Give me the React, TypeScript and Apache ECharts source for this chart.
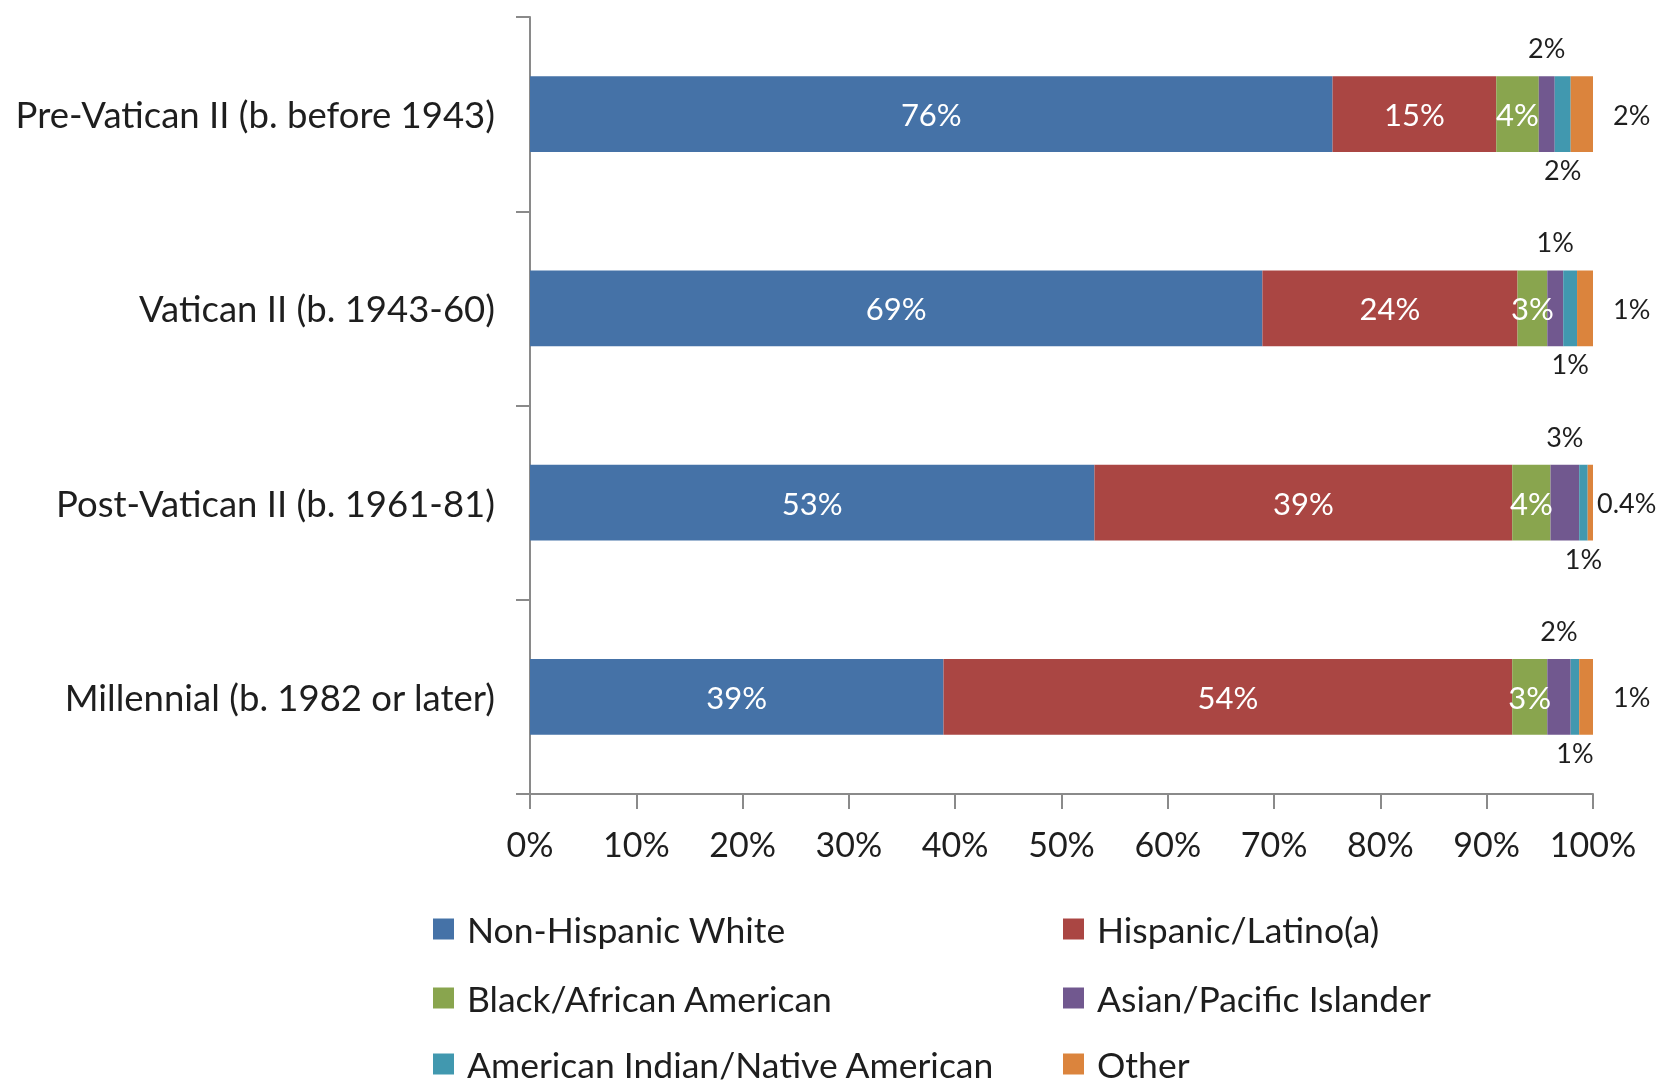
import React, { useEffect, useRef } from "react";
import * as echarts from "echarts";

const categories = [
  "Pre-Vatican II (b. before 1943)",
  "Vatican II (b. 1943-60)",
  "Post-Vatican II (b. 1961-81)",
  "Millennial (b. 1982 or later)",
];

const seriesNames = [
  "Non-Hispanic White",
  "Hispanic/Latino(a)",
  "Black/African American",
  "Asian/Pacific Islander",
  "American Indian/Native American",
  "Other",
];

const white = [75.5, 68.9, 53.1, 38.9];
const hispanic = [15.4, 24.0, 39.3, 53.5];
const black = [4.0, 2.8, 3.6, 3.3];
const asian = [1.5, 1.5, 2.7, 2.2];
const amIndian = [1.5, 1.3, 0.8, 0.8];
const other = [2.1, 1.5, 0.5, 1.3];

const whiteLabels = ["76%", "69%", "53%", "39%"];
const hispanicLabels = ["15%", "24%", "39%", "54%"];
const blackLabels = ["4%", "3%", "4%", "3%"];
const asianLabels = ["2%", "1%", "3%", "2%"];
const amIndianLabels = ["2%", "1%", "1%", "1%"];
const otherLabels = ["2%", "1%", "0.4%", "1%"];

const xTicks = [0, 10, 20, 30, 40, 50, 60, 70, 80, 90, 100];

const colors = ["#4572A7", "#AA4643", "#89A54E", "#71588F", "#4198AF", "#DB843D"];

const FONT = "Lato";
const TEXT = "#1e1e1e";
const AXIS = "#8a8a8a";

export default function App() {
  const ref = useRef<HTMLDivElement>(null);

  useEffect(() => {
    if (!ref.current) return;
    const chart = echarts.init(ref.current, undefined, { renderer: "svg" });

    const values = [white, hispanic, black, asian, amIndian, other];
    const labels = [whiteLabels, hispanicLabels, blackLabels, asianLabels, amIndianLabels, otherLabels];

    const series = values.map((vals, si) => {
      let label: any;
      if (si <= 2) {
        label = { show: true, position: "inside", color: "#ffffff", fontSize: 31, fontFamily: FONT };
      } else if (si === 3) {
        label = { show: true, position: "top", distance: 15, color: TEXT, fontSize: 27, fontFamily: FONT };
      } else if (si === 4) {
        label = { show: true, position: "bottom", distance: 4, color: TEXT, fontSize: 27, fontFamily: FONT };
      } else {
        label = { show: true, position: "right", distance: 20, color: TEXT, fontSize: 27, fontFamily: FONT };
      }
      label.formatter = (p: any) => labels[si][p.dataIndex];
      const data = vals.map((v, di) => {
        if (si === 5 && labels[si][di].indexOf(".") >= 0) {
          return { value: v, label: { distance: 4 } };
        }
        return v;
      });
      return {
        name: seriesNames[si],
        type: "bar",
        stack: "total",
        barWidth: "39%",
        data,
        label,
        itemStyle: { color: colors[si] },
        emphasis: { disabled: true },
      };
    });

    const legendPos = [
      { left: 433, center: 929 },
      { left: 1063, center: 929 },
      { left: 433, center: 998 },
      { left: 1063, center: 998 },
      { left: 433, center: 1064 },
      { left: 1063, center: 1064 },
    ];

    const legend = seriesNames.map((n, i) => ({
      data: [n],
      left: legendPos[i].left,
      top: legendPos[i].center - 20,
      padding: 0,
      icon: "rect",
      itemWidth: 21,
      itemHeight: 21,
      selectedMode: false,
      textStyle: {
        fontSize: 35.5,
        fontFamily: FONT,
        color: TEXT,
        lineHeight: 40,
        padding: [0, 0, 0, 8],
      },
    }));

    chart.setOption({
      animation: false,
      color: colors,
      grid: { left: 530, right: 68, top: 17, bottom: 295, containLabel: false },
      legend,
      xAxis: {
        type: "value",
        min: 0,
        max: 100,
        interval: 10,
        axisLine: { show: true, lineStyle: { color: AXIS, width: 2 } },
        axisTick: { show: true, length: 15, lineStyle: { color: AXIS, width: 2 } },
        splitLine: { show: false },
        axisLabel: {
          formatter: (v: number) => (xTicks.indexOf(v) >= 0 ? v + "%" : ""),
          fontSize: 34,
          fontFamily: FONT,
          color: TEXT,
          margin: 32,
        },
      },
      yAxis: {
        type: "category",
        inverse: true,
        data: categories,
        axisLine: { show: true, lineStyle: { color: AXIS, width: 2 } },
        axisTick: { show: true, length: 14, lineStyle: { color: AXIS, width: 2 } },
        axisLabel: {
          fontSize: 36.5,
          fontFamily: FONT,
          color: TEXT,
          margin: 35,
        },
      },
      series,
    });

    return () => chart.dispose();
  }, []);

  return (
    <div
      ref={ref}
      style={{ position: "fixed", left: 0, top: 0, width: 1661, height: 1089 }}
    />
  );
}
